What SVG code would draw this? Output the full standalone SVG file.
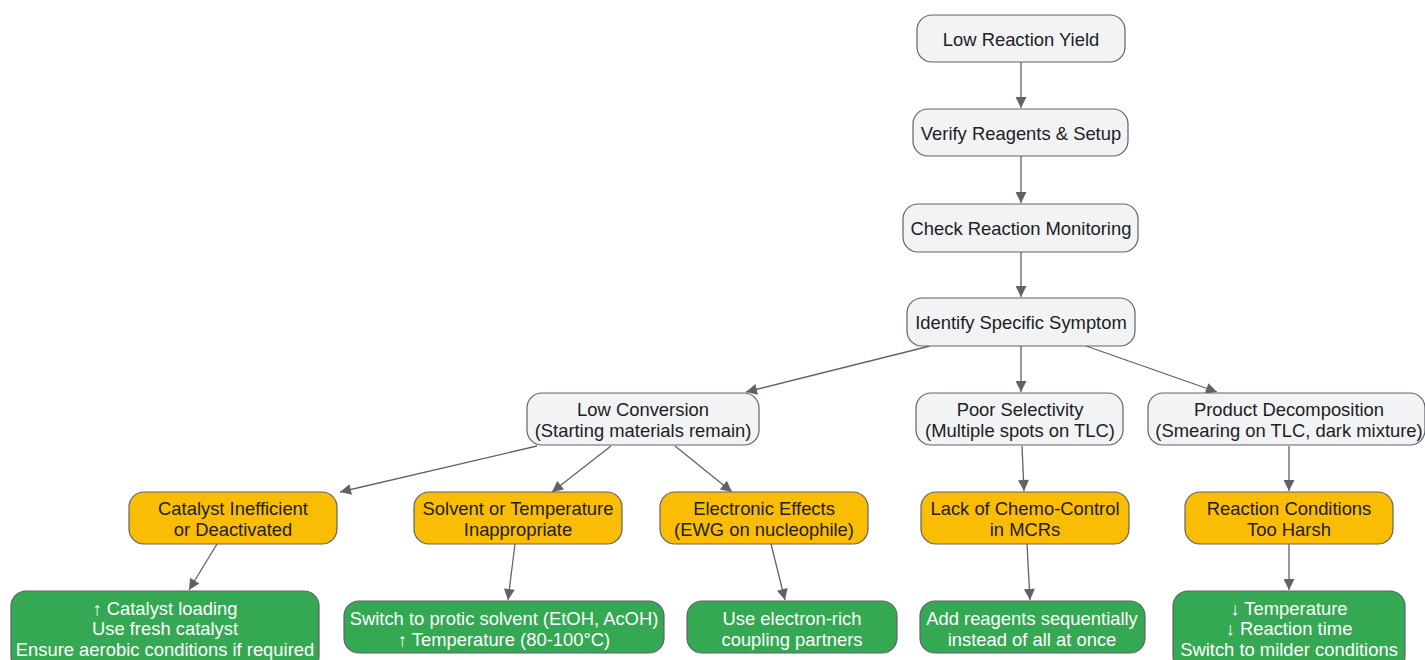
<svg xmlns="http://www.w3.org/2000/svg" width="1425" height="660" viewBox="0 0 1425 660">
<style>
text{font-family:"Liberation Sans",Arial,sans-serif;font-size:18.4px;text-anchor:middle;dominant-baseline:central}
.g rect{fill:#f1f3f4;stroke:#5f6368;stroke-width:1.2}
.g text{fill:#202124}
.o rect{fill:#fbbc04;stroke:#5f6368;stroke-width:1.2}
.o text{fill:#202124}
.s rect{fill:#34a853;stroke:#5f6368;stroke-width:1.2}
.s text{fill:#ffffff}
.e line{stroke:#5f6368;stroke-width:1.3;marker-end:url(#a)}
</style>
<defs><marker id="a" viewBox="0 0 10 10" refX="10" refY="5" markerWidth="12" markerHeight="11" markerUnits="userSpaceOnUse" orient="auto"><path d="M0,0L10,5L0,10z" fill="#5f6368"/></marker></defs>
<g class="e">
<line x1="1021" y1="62" x2="1021" y2="108"/>
<line x1="1021" y1="156" x2="1021" y2="203"/>
<line x1="1021" y1="252" x2="1021" y2="297"/>
<line x1="930" y1="346" x2="746" y2="392"/>
<line x1="1021" y1="346" x2="1021" y2="392"/>
<line x1="1086" y1="346" x2="1217" y2="392"/>
<line x1="537" y1="446" x2="340" y2="492"/>
<line x1="611" y1="446" x2="552" y2="492"/>
<line x1="675" y1="446" x2="732" y2="492"/>
<line x1="1022" y1="446" x2="1024" y2="491"/>
<line x1="1289" y1="446" x2="1289" y2="491"/>
<line x1="217" y1="544" x2="189" y2="590"/>
<line x1="515" y1="544" x2="508" y2="600"/>
<line x1="771" y1="544" x2="785" y2="600"/>
<line x1="1027" y1="544" x2="1030" y2="600"/>
<line x1="1289" y1="544" x2="1289" y2="590"/>
</g>
<g id="n1" class="g"><rect x="917" y="15" width="208" height="47" rx="15"/><text x="1021" y="39">Low Reaction Yield</text></g>
<g id="n2" class="g"><rect x="913" y="109" width="215" height="47" rx="15"/><text x="1021" y="133">Verify Reagents &amp; Setup</text></g>
<g id="n3" class="g"><rect x="903" y="204" width="235" height="48" rx="15"/><text x="1021" y="228">Check Reaction Monitoring</text></g>
<g id="n4" class="g"><rect x="907" y="298" width="228" height="48" rx="15"/><text x="1021" y="322">Identify Specific Symptom</text></g>
<g id="n5" class="g"><rect x="527" y="393" width="232" height="52" rx="15"/><text x="643" y="409">Low Conversion</text><text x="643" y="430">(Starting materials remain)</text></g>
<g id="n6" class="g"><rect x="916" y="393" width="207" height="52" rx="15"/><text x="1020" y="409">Poor Selectivity</text><text x="1020" y="430">(Multiple spots on TLC)</text></g>
<g id="n7" class="g"><rect x="1148" y="393" width="277" height="52" rx="15"/><text x="1289" y="409">Product Decomposition</text><text x="1289" y="430">(Smearing on TLC, dark mixture)</text></g>
<g id="n8" class="o"><rect x="129" y="492" width="208" height="52" rx="15"/><text x="233" y="508">Catalyst Inefficient</text><text x="233" y="529">or Deactivated</text></g>
<g id="n9" class="o"><rect x="414" y="492" width="208" height="52" rx="15"/><text x="518" y="508">Solvent or Temperature</text><text x="518" y="529">Inappropriate</text></g>
<g id="n10" class="o"><rect x="660" y="492" width="208" height="52" rx="15"/><text x="764" y="508">Electronic Effects</text><text x="764" y="529">(EWG on nucleophile)</text></g>
<g id="n11" class="o"><rect x="921" y="492" width="208" height="52" rx="15"/><text x="1025" y="508">Lack of Chemo-Control</text><text x="1025" y="529">in MCRs</text></g>
<g id="n12" class="o"><rect x="1185" y="492" width="208" height="52" rx="15"/><text x="1289" y="508">Reaction Conditions</text><text x="1289" y="529">Too Harsh</text></g>
<g id="n13" class="s"><rect x="11" y="591" width="308" height="80" rx="15"/><text x="165" y="608">↑ Catalyst loading</text><text x="165" y="628">Use fresh catalyst</text><text x="165" y="649">Ensure aerobic conditions if required</text></g>
<g id="n14" class="s"><rect x="344" y="601" width="320" height="52" rx="15"/><text x="504" y="618">Switch to protic solvent (EtOH, AcOH)</text><text x="504" y="639">↑ Temperature (80-100°C)</text></g>
<g id="n15" class="s"><rect x="687" y="601" width="210" height="52" rx="15"/><text x="792" y="618">Use electron-rich</text><text x="792" y="639">coupling partners</text></g>
<g id="n16" class="s"><rect x="920" y="601" width="225" height="52" rx="15"/><text x="1032" y="618">Add reagents sequentially</text><text x="1032" y="639">instead of all at once</text></g>
<g id="n17" class="s"><rect x="1173" y="591" width="232" height="80" rx="15"/><text x="1289" y="608">↓ Temperature</text><text x="1289" y="628">↓ Reaction time</text><text x="1289" y="649">Switch to milder conditions</text></g>
</svg>
